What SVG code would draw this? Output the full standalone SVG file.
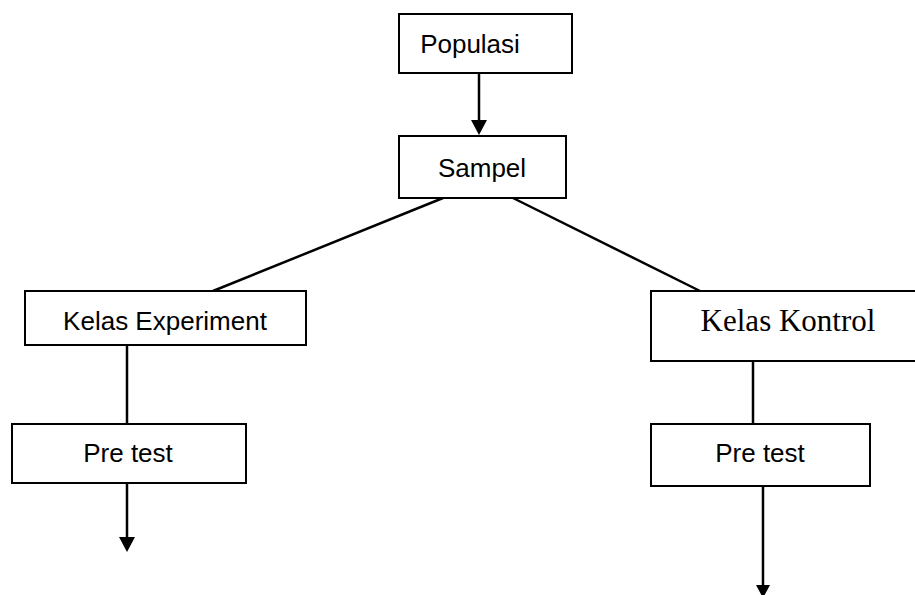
<svg xmlns="http://www.w3.org/2000/svg" width="915" height="595" viewBox="0 0 915 595">
<style>
.box{fill:#fff;stroke:#000;stroke-width:2}
.t{font-family:"Liberation Sans",Arial,sans-serif;font-size:26px;fill:#000;text-anchor:middle}
.ts{font-family:"Liberation Serif","Times New Roman",serif;font-size:31px;fill:#000;text-anchor:middle}
.ln{stroke:#000;stroke-width:2.5;fill:none}
</style>
<rect width="915" height="595" fill="#fff"/>
<g id="connectors">
<line class="ln" x1="479" y1="73" x2="479" y2="120"/>
<path d="M471,120 L487,120 L479,135 Z" fill="#000"/>
<line class="ln" x1="443" y1="198" x2="213" y2="291"/>
<line class="ln" x1="513" y1="198" x2="700" y2="291"/>
<line class="ln" x1="127" y1="345" x2="127" y2="424"/>
<line class="ln" x1="753" y1="361" x2="753" y2="424"/>
<line class="ln" x1="127" y1="483" x2="127" y2="537"/>
<path d="M119,537 L135,537 L127,552 Z" fill="#000"/>
<line class="ln" x1="763" y1="486" x2="763" y2="585"/>
<path d="M756,585 L770,585 L763,598 Z" fill="#000"/>
</g>
<g id="populasi">
<rect class="box" x="399" y="14" width="173" height="59"/>
<text class="t" x="470" y="53">Populasi</text>
</g>
<g id="sampel">
<rect class="box" x="399" y="136" width="167" height="62"/>
<text class="t" x="482" y="177">Sampel</text>
</g>
<g id="kelas-experiment">
<rect class="box" x="25" y="291" width="281" height="54"/>
<text class="t" x="165" y="330">Kelas Experiment</text>
</g>
<g id="kelas-kontrol">
<rect class="box" x="651" y="291" width="280" height="70"/>
<text class="ts" x="788" y="331">Kelas Kontrol</text>
</g>
<g id="pretest-left">
<rect class="box" x="12" y="424" width="234" height="59"/>
<text class="t" x="128" y="462">Pre test</text>
</g>
<g id="pretest-right">
<rect class="box" x="651" y="424" width="219" height="62"/>
<text class="t" x="760" y="462">Pre test</text>
</g>
</svg>
